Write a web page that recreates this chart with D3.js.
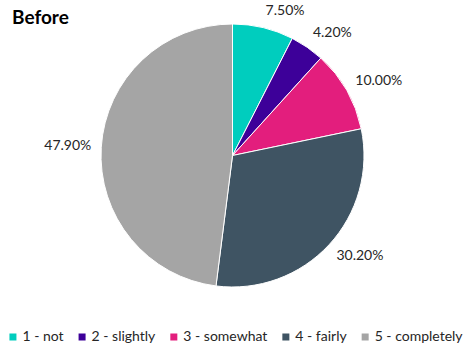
<!DOCTYPE html>
<html>
<head>
<meta charset="utf-8">
<script src="https://cdn.jsdelivr.net/npm/d3@7"></script>
<style>
  body { margin: 0; background: #fff; }
  text { font-family: Lato, "Open Sans", sans-serif; }
</style>
</head>
<body>
<div id="chart"></div>
<script>
// Pie chart "Before"

// Pt. 0 - DATA

const categories = ["1 - not", "2 - slightly", "3 - somewhat", "4 - fairly", "5 - completely"];
const values = [7.5, 4.2, 10.0, 30.2, 47.9];
const labels = ["7.50%", "4.20%", "10.00%", "30.20%", "47.90%"];
const colors = ["#00CDBE", "#3D0099", "#E31E7D", "#3F5463", "#A5A5A5"];

const data = categories.map((c, i) => ({ cat: c, val: values[i], label: labels[i], color: colors[i] }));

// Pt. 1 - TYPE SETTING

const width = 472,
      height = 356,
      cx = 232.5,
      cy = 155.5,
      radius = 131.5;

let svg = d3.select("#chart")
    .append("svg")
    .attr("width", width)
    .attr("height", height)
    .attr("viewBox", [0, 0, width, height]);

// title
svg.append("text")
    .attr("x", 12)
    .attr("y", 24)
    .attr("font-size", 19)
    .attr("font-weight", "bold")
    .attr("fill", "#000")
    .text("Before");

// Pt. 2 - PIE

let pie = d3.pie()
    .value(d => d.val)
    .sort(null);

let arc = d3.arc()
    .innerRadius(0)
    .outerRadius(radius);

let arcs = pie(data);

let g = svg.append("g")
    .attr("transform", `translate(${cx}, ${cy})`);

g.selectAll("path")
    .data(arcs)
    .join("path")
    .attr("d", arc)
    .attr("fill", d => d.data.color)
    .attr("stroke", "#fff")
    .attr("stroke-width", 1);

// labels just outside the slice ends
const pad = 10, hh = 7;
g.selectAll(".lbl")
    .data(arcs)
    .join("text")
    .attr("class", "lbl")
    .attr("font-size", 14)
    .attr("fill", "#262626")
    .attr("dominant-baseline", "middle")
    .each(function(d) {
        let a = (d.startAngle + d.endAngle) / 2;
        let s = Math.sin(a), c = Math.cos(a);
        let px = (radius + pad) * s,
            py = -(radius + pad) * c - hh * c;
        d3.select(this)
            .attr("x", px)
            .attr("y", py)
            .attr("text-anchor", s >= 0 ? "start" : "end");
    })
    .text(d => d.data.label);

// Pt. 3 - LEGEND

let legend = svg.append("g");
let item = legend.selectAll("g")
    .data(data)
    .join("g");

item.append("rect")
    .attr("width", 7)
    .attr("height", 7)
    .attr("y", -3.5)
    .attr("fill", d => d.color);

item.append("text")
    .attr("x", 13)
    .attr("font-size", 14)
    .attr("fill", "#262626")
    .attr("dominant-baseline", "middle")
    .text(d => d.cat);

let lx = 0;
item.each(function() {
    let w = d3.select(this).select("text").node().getComputedTextLength();
    d3.select(this).attr("transform", `translate(${lx}, 0)`);
    lx += 13 + w + 15;
});
let total = lx - 15;
legend.attr("transform", `translate(${(width - total) / 2}, 337)`);
</script>
</body>
</html>
